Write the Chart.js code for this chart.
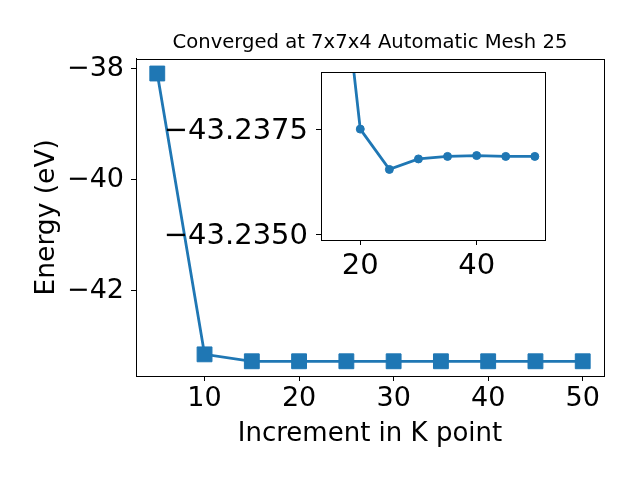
<!DOCTYPE html>
<html>
<head>
<meta charset="utf-8">
<script src="https://cdn.jsdelivr.net/npm/chart.js@4"></script>
<style>
  body { margin: 0; background: #fff; }
  #wrap { position: relative; width: 640px; height: 480px; }
  #mainChart { position: absolute; left: 0; top: 0; }
  #insetChart { position: absolute; left: 150px; top: 47px; }
</style>
</head>
<body>
<div id="wrap">
  <canvas id="mainChart" width="640" height="480"></canvas>
  <canvas id="insetChart" width="420" height="253"></canvas>
</div>
<script>
// main plot
var kPoints = [5, 10, 15, 20, 25, 30, 35, 40, 45, 50];
var energy = [-38.09, -43.15, -43.275, -43.275, -43.275, -43.275, -43.275, -43.275, -43.275, -43.275];
var mainXTicks = [10, 20, 30, 40, 50];
var mainYTicks = [-42, -40, -38];

// inset (values read against the inset's own tick labels)
var insetK = [15, 20, 25, 30, 35, 40, 45, 50];
var insetEnergy = [-43.2437, -43.23752, -43.23656, -43.23681, -43.23687, -43.23689, -43.23687, -43.23687];
var insetXTicks = [20, 40];
var insetYTicks = [-43.2375, -43.2350];

var BLUE = '#1f77b4';
var FONT = 'DejaVu Sans';

function minus(s) { return String(s).replace('-', '\u2212'); }

function toPoints(xs, ys) {
    return xs.map(function (x, i) { return { x: x, y: ys[i] }; });
}

function fixedTicks(values) {
    return function (scale) {
        scale.ticks = values.map(function (v) { return { value: v }; });
    };
}

var framePlugin = {
    id: 'frame',
    beforeDraw: function (chart, args, opts) {
        if (!opts.fill) return;
        var a = chart.chartArea, ctx = chart.ctx;
        ctx.save();
        ctx.fillStyle = opts.fill;
        ctx.fillRect(a.left, a.top, a.right - a.left, a.bottom - a.top);
        ctx.restore();
    },
    afterDatasetsDraw: function (chart) {
        var a = chart.chartArea, ctx = chart.ctx;
        ctx.save();
        ctx.strokeStyle = '#000';
        ctx.lineWidth = 1;
        ctx.strokeRect(Math.round(a.left) + 0.5, Math.round(a.top) + 0.5,
            Math.round(a.right - a.left), Math.round(a.bottom - a.top));
        ctx.restore();
    }
};

function axisGrid() {
    return { drawOnChartArea: false, drawTicks: true, tickLength: 5, tickColor: '#000', tickWidth: 1 };
}

new Chart(document.getElementById('mainChart'), {
    type: 'scatter',
    data: {
        datasets: [{
            data: toPoints(kPoints, energy),
            showLine: true,
            borderColor: BLUE,
            backgroundColor: BLUE,
            borderWidth: 2.8,
            pointStyle: 'rect',
            pointRadius: 10.5,
            pointBorderWidth: 1,
            pointBorderColor: BLUE,
            pointBackgroundColor: BLUE
        }]
    },
    options: {
        responsive: false,
        devicePixelRatio: 1,
        animation: false,
        layout: { padding: { left: 0, right: 36, top: 0, bottom: 0 } },
        plugins: {
            legend: { display: false },
            tooltip: { enabled: false },
            title: {
                display: true,
                fullSize: false,
                text: 'Converged at 7x7x4 Automatic Mesh 25',
                color: '#000',
                font: { family: FONT, size: 19.6, weight: 'normal' },
                padding: { top: 31, bottom: 4 }
            },
            frame: {}
        },
        scales: {
            x: {
                type: 'linear',
                min: 2.75,
                max: 52.25,
                afterBuildTicks: fixedTicks(mainXTicks),
                afterFit: function (s) { s.height = 104; },
                grid: axisGrid(),
                border: { display: true, color: '#000', width: 1 },
                ticks: {
                    autoSkip: false,
                    maxRotation: 0,
                    padding: 2,
                    color: '#000',
                    font: { family: FONT, size: 27 },
                    callback: function (v) { return minus(v); }
                },
                title: {
                    display: true,
                    text: 'Increment in K point',
                    color: '#000',
                    font: { family: FONT, size: 26 },
                    padding: { top: 0, bottom: 30 }
                }
            },
            y: {
                type: 'linear',
                min: -43.54,
                max: -37.82,
                afterBuildTicks: fixedTicks(mainYTicks),
                afterFit: function (s) { s.width = 136; },
                grid: axisGrid(),
                border: { display: true, color: '#000', width: 1 },
                ticks: {
                    autoSkip: false,
                    padding: 7,
                    color: '#000',
                    font: { family: FONT, size: 27 },
                    callback: function (v) { return minus(v); }
                },
                title: {
                    display: true,
                    text: 'Energy (eV)',
                    color: '#000',
                    font: { family: FONT, size: 26.5 },
                    padding: { top: 31, bottom: 0 }
                }
            }
        }
    },
    plugins: [framePlugin]
});

new Chart(document.getElementById('insetChart'), {
    type: 'scatter',
    data: {
        datasets: [{
            data: toPoints(insetK, insetEnergy),
            showLine: true,
            borderColor: BLUE,
            backgroundColor: BLUE,
            borderWidth: 2.8,
            pointStyle: 'circle',
            pointRadius: 4,
            pointBorderWidth: 1,
            pointBorderColor: BLUE,
            pointBackgroundColor: BLUE
        }]
    },
    options: {
        responsive: false,
        devicePixelRatio: 1,
        animation: false,
        layout: { padding: { left: 0, right: 25, top: 12, bottom: 0 } },
        plugins: {
            legend: { display: false },
            tooltip: { enabled: false },
            frame: { fill: '#fff' }
        },
        scales: {
            x: {
                type: 'linear',
                min: 13.25,
                max: 51.75,
                afterBuildTicks: fixedTicks(insetXTicks),
                afterFit: function (s) { s.height = 60; },
                grid: axisGrid(),
                border: { display: true, color: '#000', width: 1 },
                ticks: {
                    autoSkip: false,
                    maxRotation: 0,
                    padding: 4,
                    color: '#000',
                    font: { family: FONT, size: 29 }
                }
            },
            y: {
                type: 'linear',
                reverse: true,
                min: -43.23887,
                max: -43.23488,
                afterBuildTicks: fixedTicks(insetYTicks),
                afterFit: function (s) { s.width = 171; },
                grid: axisGrid(),
                border: { display: true, color: '#000', width: 1 },
                ticks: {
                    autoSkip: false,
                    padding: 8,
                    labelOffset: 2,
                    color: '#000',
                    font: { family: FONT, size: 29 },
                    callback: function (v) { return minus(v.toFixed(4)); }
                }
            }
        }
    },
    plugins: [framePlugin]
});
</script>
</body>
</html>
